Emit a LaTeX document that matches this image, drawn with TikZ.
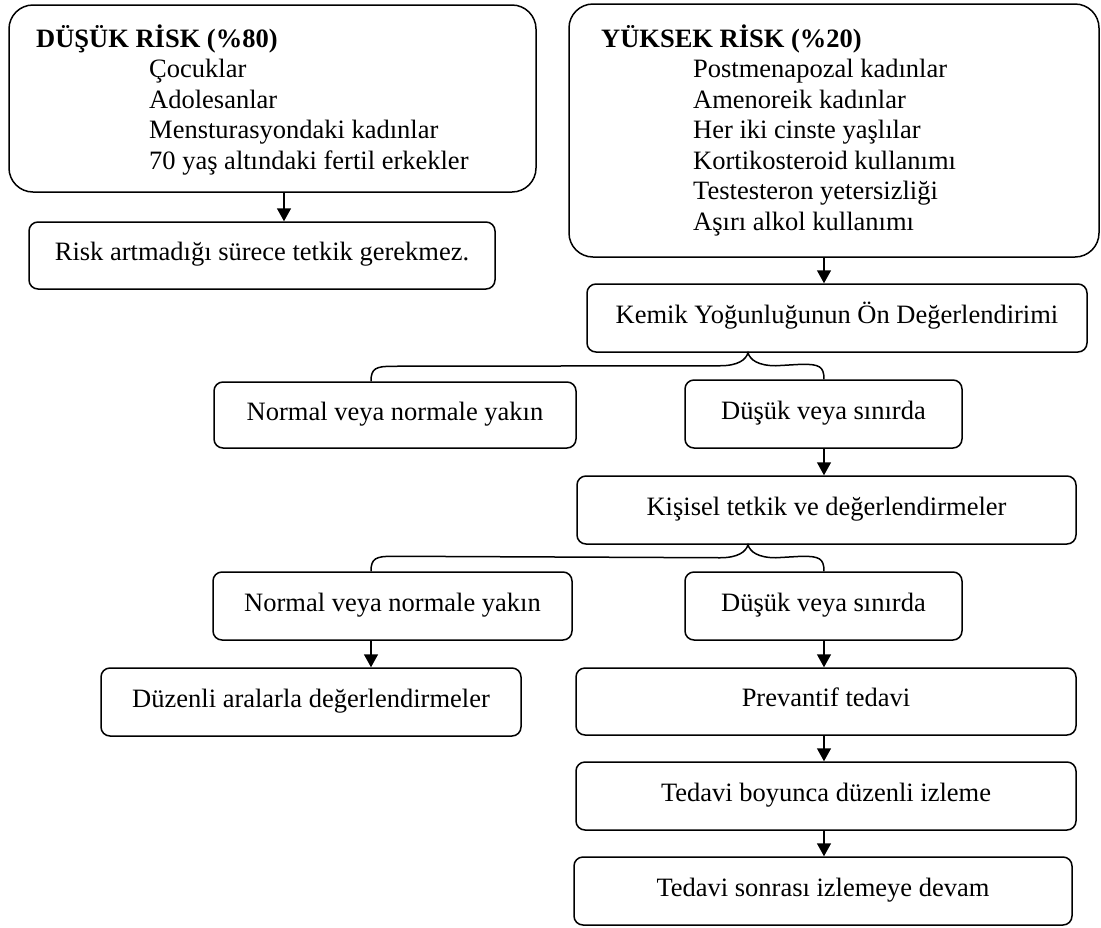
\documentclass[tikz,border=0pt]{standalone}
\usepackage{fontspec}
\setmainfont{Liberation Serif}
\usetikzlibrary{arrows.meta,calc}
\newcommand\mybrace[3]{%
  \draw[brace] (#1) .. controls ($(#1)+(0,-13)$) and ($(#1)+(5,-15)$) .. ($(#1)+(22,-15)$)
    -- ($(#2)+(-28,13)$) .. controls ($(#2)+(-10,13)$) and ($(#2)+(-2,7)$) .. (#2)
    .. controls ($(#2)+(2,7)$) and ($(#2)+(10,13)$) .. ($(#2)+(28,13)$)
    -- ($(#3)+(-22,-15)$) .. controls ($(#3)+(-5,-15)$) and ($(#3)+(0,-13)$) .. (#3);}
\begin{document}
\begin{tikzpicture}[x=1pt,y=-1pt,
  font=\fontsize{26.5}{30.5}\selectfont,
  sz/.style 2 args={minimum width=#1pt, minimum height=#2pt},
  box/.style={draw, line width=1.5pt, rounded corners=9pt, inner sep=0pt,
              text height=19pt, text depth=9pt},
  bigbox/.style={draw, line width=1.5pt, rounded corners=24pt, inner sep=0pt},
  listtext/.style={anchor=base west, inner sep=0pt},
  arr/.style={line width=1.5pt, -{Triangle[width=14pt,length=13pt]}},
  brace/.style={line width=1.5pt}]
\useasboundingbox (0,0) rectangle (1101,927);

% column guides
\coordinate (xa) at (284,0);
\coordinate (xr) at (824,0);
\coordinate (xl) at (371,0);
\coordinate (xt) at (748,0);

% left column
\node[bigbox, sz={527}{187}] (A) at (272.5,98.5) {};
\node[listtext] (tA) at (36,47) {\begin{tabular}[t]{@{}l@{}}
  \textbf{DÜŞÜK RİSK (\%80)}\\
  \hspace*{113pt}Çocuklar\\
  \hspace*{113pt}Adolesanlar\\
  \hspace*{113pt}Mensturasyondaki kadınlar\\
  \hspace*{113pt}70 yaş altındaki fertil erkekler
  \end{tabular}};
\node[box, sz={466}{67}] (B) at (262,255.5) {Risk artmadığı sürece tetkik gerekmez.};

% right column
\node[bigbox, sz={530}{253}] (C) at (834,130.5) {};
\node[listtext] (tC) at (601,47) {\begin{tabular}[t]{@{}l@{}}
  \textbf{YÜKSEK RİSK (\%20)}\\
  \hspace*{92pt}Postmenapozal kadınlar\\
  \hspace*{92pt}Amenoreik kadınlar\\
  \hspace*{92pt}Her iki cinste yaşlılar\\
  \hspace*{92pt}Kortikosteroid kullanımı\\
  \hspace*{92pt}Testesteron yetersizliği\\
  \hspace*{92pt}Aşırı alkol kullanımı
  \end{tabular}};
\node[box, sz={500}{68}] (D) at (837,318) {Kemik Yoğunluğunun Ön Değerlendirimi};
\node[box, sz={362}{66}] (E) at (395,415) {Normal veya normale yakın};
\node[box, sz={277}{68}] (F) at (823.5,414) {Düşük veya sınırda};
\node[box, sz={499}{68}] (G) at (826.5,510) {Kişisel tetkik ve değerlendirmeler};
\node[box, sz={359}{68}] (H) at (392.5,606) {Normal veya normale yakın};
\node[box, sz={277}{68}] (I) at (823.5,606) {Düşük veya sınırda};
\node[box, sz={420}{68}] (J) at (311,702) {Düzenli aralarla değerlendirmeler};
\node[box, sz={500}{67}] (K) at (826,701.5) {Prevantif tedavi};
\node[box, sz={500}{68}] (L) at (826,796) {Tedavi boyunca düzenli izleme};
\node[box, sz={498}{68}] (M) at (823,891) {Tedavi sonrası izlemeye devam};

% arrows
\draw[arr] (A.south -| xa) -- (B.north -| xa);
\draw[arr] (C.south -| xr) -- (D.north -| xr);
\draw[arr] (F.south -| xr) -- (G.north -| xr);
\draw[arr] (I.south -| xr) -- (K.north -| xr);
\draw[arr] (K.south -| xr) -- (L.north -| xr);
\draw[arr] (L.south -| xr) -- (M.north -| xr);
\draw[arr] (H.south -| xl) -- (J.north -| xl);

% braces
\coordinate (b1l) at (E.north -| xl);
\coordinate (b1t) at (D.south -| xt);
\coordinate (b1r) at (F.north -| xr);
\coordinate (b2l) at (H.north -| xl);
\coordinate (b2t) at (G.south -| xt);
\coordinate (b2r) at (I.north -| xr);
\mybrace{b1l}{b1t}{b1r}
\mybrace{b2l}{b2t}{b2r}
\end{tikzpicture}
\end{document}
